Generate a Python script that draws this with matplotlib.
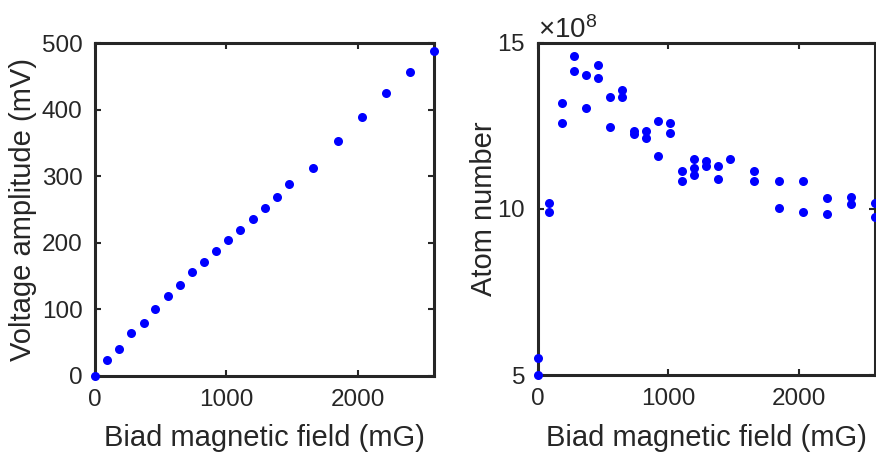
import matplotlib
matplotlib.use("Agg")
import matplotlib.pyplot as plt
from matplotlib.ticker import ScalarFormatter

plt.rcParams["font.family"] = ["Liberation Sans", "DejaVu Sans"]
plt.rcParams["mathtext.fontset"] = "custom"
plt.rcParams["mathtext.rm"] = "Liberation Sans"
plt.rcParams["mathtext.it"] = "Liberation Sans:italic"

# bias field values (mG), shared by both panels
field = [0, 89, 183, 277, 371, 459, 553, 647, 736, 830, 924, 1015,
         1107, 1200, 1292, 1383, 1477, 1660, 1848, 2030, 2216, 2401, 2584]
voltage = [0, 24, 40, 64, 80, 100, 120, 137, 156, 172, 188, 204,
           220, 236, 253, 269, 289, 313, 353, 389, 426, 457, 489]

# atom number, two shots per field value (some values single)
atom_field = [0, 0, 89, 89, 183, 183, 277, 277, 371, 371, 459, 459,
              553, 553, 647, 647, 736, 736, 830, 830, 924, 924, 1015, 1015,
              1107, 1107, 1200, 1200, 1200, 1292, 1292, 1383, 1383, 1477,
              1660, 1660, 1848, 1848, 2030, 2030, 2216, 2216, 2401, 2401,
              2584, 2584]
atoms = [5.51, 5.0, 10.17, 9.90, 13.18, 12.58, 14.61, 14.16, 14.04, 13.02,
         14.32, 13.94, 13.37, 12.46, 13.59, 13.35, 12.34, 12.24, 12.35, 12.14,
         12.64, 11.60, 12.58, 12.28, 11.14, 10.84, 11.50, 11.23, 11.03,
         11.45, 11.30, 11.28, 10.90, 11.50, 11.15, 10.83, 10.84, 10.03,
         10.83, 9.91, 10.33, 9.86, 10.37, 10.16, 10.19, 9.77]
atoms = [a * 1e8 for a in atoms]

dark = "#262626"
tick_fs = 17.5
label_fs = 21

fig = plt.figure(figsize=(8.76, 4.55), dpi=100)
ax1 = fig.add_axes([95 / 876, 79 / 455, 339.3 / 876, 332.7 / 455])
ax2 = fig.add_axes([537.7 / 876, 79.7 / 455, 337.3 / 876, 332.7 / 455])

for ax in (ax1, ax2):
    for s in ax.spines.values():
        s.set_linewidth(2.2)
        s.set_color(dark)
    ax.tick_params(direction="in", length=4, width=1.5, colors=dark,
                   labelsize=tick_fs, top=True, right=True, pad=9)
    ax.set_xlim(0, 2584)
    ax.set_xticks([0, 1000, 2000])
    ax.set_xlabel("Biad magnetic field (mG)", fontsize=label_fs, color=dark)
    ax.xaxis.set_label_coords(0.5, -0.145)

ax1.plot(field, voltage, "o", color="#0000ff", markersize=6.5,
         markeredgewidth=0, clip_on=False, zorder=3)
ax1.set_ylim(0, 500)
ax1.set_yticks([0, 100, 200, 300, 400, 500])
ax1.set_ylabel("Voltage amplitude (mV)", fontsize=label_fs, color=dark)
ax1.yaxis.set_label_coords(-0.172, 0.5)

ax2.plot(atom_field, atoms, "o", color="#0000ff", markersize=6.5,
         markeredgewidth=0, clip_on=False, zorder=3)
ax2.set_ylim(5e8, 15e8)
ax2.set_yticks([5e8, 10e8, 15e8])
fmt = ScalarFormatter(useMathText=True)
fmt.set_powerlimits((8, 8))
ax2.yaxis.set_major_formatter(fmt)
ax2.yaxis.get_offset_text().set_fontsize(20)
ax2.yaxis.get_offset_text().set_color(dark)
ax2.set_ylabel("Atom number", fontsize=label_fs, color=dark)
ax2.yaxis.set_label_coords(-0.119, 0.5)

fig.savefig("out.png", dpi=100)
